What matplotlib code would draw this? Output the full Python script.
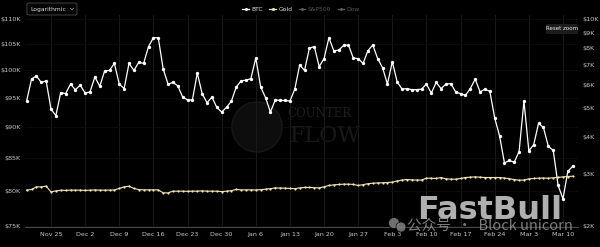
import pandas as pd
import matplotlib
matplotlib.use("Agg")
import matplotlib.pyplot as plt
from matplotlib.ticker import FixedLocator, NullLocator, FuncFormatter
from matplotlib.lines import Line2D
from matplotlib.patches import FancyBboxPatch, Ellipse, Circle
from matplotlib.transforms import IdentityTransform

plt.rcParams['font.family'] = ['DejaVu Sans']

# daily closes, Nov 20 2024 -> Mar 12 2025
dates = pd.date_range("2024-11-20", "2025-03-12", freq="D")

# BTC in $K
btc = [
    94.5, 98.4, 99.0, 97.8, 98.1, 93.1, 92.0, 96.0, 95.8, 97.5, 96.5,
    97.3, 95.9, 96.1, 98.8, 97.1, 99.9, 100.0, 101.3, 97.5, 96.7, 101.3, 100.0, 101.5, 101.3,
    104.5, 106.2, 106.2, 100.3, 97.5, 97.8, 97.2, 95.2, 94.7, 94.7, 99.5, 95.8, 94.2, 95.2,
    93.4, 92.6, 93.4,
    94.5, 97.0, 98.1, 98.2, 98.5, 102.3, 97.0, 95.1, 92.6, 94.7, 94.6, 94.6, 94.5, 96.6,
    101.0, 100.0, 104.2, 104.5, 100.7, 102.2, 106.2, 103.7, 103.8, 104.7, 104.8, 102.3,
    102.2, 101.3, 103.7, 104.8, 102.2,
    100.5, 97.5, 101.6, 97.9, 96.6, 96.7, 96.5, 96.5, 96.6, 97.5, 95.9, 97.8, 96.7, 97.5,
    97.6, 96.1, 95.8, 95.5, 96.7, 98.4, 96.1, 96.6, 96.2, 91.6, 88.6, 84.3, 84.7, 84.4,
    86.1, 94.5, 86.2, 87.2, 90.7, 90.0, 86.9, 86.3, 80.9, 78.9, 83.0, 83.8,
]

# Gold in $
gold = [
    2644, 2658, 2712, 2712, 2727, 2609, 2629, 2640, 2640, 2644, 2644,
    2644, 2640, 2644, 2648, 2644, 2644, 2644, 2648, 2679, 2712, 2727, 2679, 2655, 2650,
    2650, 2650, 2650, 2589, 2589, 2623, 2623, 2623, 2620, 2623, 2623, 2630, 2623, 2623,
    2623, 2615, 2623,
    2635, 2658, 2650, 2650, 2650, 2648, 2655, 2664, 2675, 2691, 2688, 2685, 2680, 2675,
    2691, 2700, 2700, 2695, 2691, 2715, 2742, 2755, 2763, 2770, 2770, 2765, 2742, 2760,
    2780, 2790, 2798,
    2800, 2805, 2813, 2840, 2860, 2872, 2865, 2860, 2860, 2902, 2900, 2895, 2917, 2886,
    2880, 2880, 2895, 2917, 2925, 2931, 2925, 2917, 2917, 2917, 2917, 2905, 2890, 2872,
    2857, 2860, 2886, 2895, 2902, 2905, 2902, 2910, 2920, 2931, 2940, 2947,
]

left_ticks = [75, 80, 85, 90, 95, 100, 105, 110]
right_ticks = [2, 3, 4, 5, 6, 7, 8, 9, 10]
week_ticks = pd.date_range("2024-11-25", "2025-03-10", freq="7D")
week_labels = [d.strftime("%b ") + str(d.day) for d in week_ticks]

legend_names = ["BTC", "Gold", "S&P500", "Dow"]
legend_colors = ["#ffffff", "#f3e7b4", "#5a5a5a", "#5a5a5a"]

BG = "#000000"
TXT = "#c8c8c8"
GRID = "#1a1a1a"

fig = plt.figure(figsize=(6, 2.47), dpi=100, facecolor=BG)
ax = fig.add_axes([25 / 600, 1 - 226.7 / 247, 553 / 600, 211.7 / 247])
ax.set_facecolor(BG)

# watermark logo (behind data)
ax.add_patch(Ellipse((0.4195, 0.471), 50 / 553, 50 / 211.7, transform=ax.transAxes,
                     facecolor="#0d0d0d", edgecolor="#161616", lw=1.2, zorder=0.5))
ax.text(0.475, 0.535, "COUNTER", transform=ax.transAxes, fontsize=8.5,
        family="DejaVu Serif", color="#1e1e1e", va="center", zorder=0.6)
ax.text(0.478, 0.43, "FLOW", transform=ax.transAxes, fontsize=16,
        family="DejaVu Serif", color="#181818", va="center", zorder=0.6)

ax2 = ax.twinx()

ax.plot(dates, btc, color="#ffffff", lw=0.9, marker="o", ms=2.4,
        markeredgewidth=0, zorder=5)
ax2.plot(dates, gold, color="#f3e7b4", lw=0.8, marker="o", ms=1.6,
         markeredgewidth=0, zorder=4)

ax.set_yscale("log")
ax2.set_yscale("log")
ax.set_ylim(75 * 0.9993, 110.76)
ax2.set_ylim(1990, 10320)

ax.yaxis.set_major_locator(FixedLocator(left_ticks))
ax.yaxis.set_minor_locator(NullLocator())
ax.yaxis.set_major_formatter(FuncFormatter(lambda v, p: "$%dK" % round(v)))
ax2.yaxis.set_major_locator(FixedLocator([t * 1000 for t in right_ticks]))
ax2.yaxis.set_minor_locator(NullLocator())
ax2.yaxis.set_major_formatter(FuncFormatter(lambda v, p: "$%dK" % round(v / 1000)))

ax.set_xlim(dates[0] - pd.Timedelta(hours=8), dates[-1] + pd.Timedelta(hours=26))
ax.set_xticks(week_ticks)
ax.set_xticklabels(week_labels)

ax.tick_params(axis="x", length=0, pad=4, labelsize=4.6, colors=TXT)
ax.tick_params(axis="y", length=0, pad=3, labelsize=4.6, colors=TXT)
ax2.tick_params(axis="y", length=0, pad=3.5, labelsize=4.6, colors=TXT)

ax.grid(True, axis="x", color=GRID, lw=0.7)
ax.grid(True, axis="y", color="#0e0e0e", lw=0.6)
ax.set_axisbelow(True)
for a in (ax, ax2):
    for s in a.spines.values():
        s.set_visible(False)
ax.spines["bottom"].set_visible(True)
ax.spines["bottom"].set_color("#555555")
ax.spines["bottom"].set_linewidth(0.6)

# legend
handles = [Line2D([], [], color=c, marker="o", ms=2.2, lw=0.9, markeredgewidth=0)
           for c in legend_colors]
fig.legend(handles, legend_names, loc="center", bbox_to_anchor=(0.502, 0.962),
           ncol=4, frameon=False, fontsize=4.3, handlelength=1.1,
           handletextpad=0.4, columnspacing=1.1,
           labelcolor=["#e6e6e6", "#e6e6e6", "#5a5a5a", "#5a5a5a"])

# "Logarithmic" dropdown
fig.patches.append(FancyBboxPatch((27 / 600, 1 - 15 / 247), 50 / 600, 12 / 247,
                                  boxstyle="round,pad=0,rounding_size=0.004",
                                  transform=fig.transFigure, facecolor="#050505",
                                  edgecolor="#4a4a4a", lw=0.6))
fig.text(30 / 600, 1 - 9 / 247, "Logarithmic", fontsize=4.3, color="#dddddd",
         va="center", ha="left")
fig.add_artist(Line2D([70.5 / 600, 72 / 600, 73.5 / 600],
                      [1 - 8.3 / 247, 1 - 9.8 / 247, 1 - 8.3 / 247],
                      transform=fig.transFigure, color="#aaaaaa", lw=0.5))

# "Reset zoom" button
fig.patches.append(FancyBboxPatch((546 / 600, 1 - 34 / 247), 32 / 600, 10 / 247,
                                  boxstyle="round,pad=0,rounding_size=0.004",
                                  transform=fig.transFigure, facecolor="#1c1c1c",
                                  edgecolor="none"))
fig.text(562 / 600, 1 - 29 / 247, "Reset zoom", fontsize=4.0, color="#eeeeee",
         va="center", ha="center")

# overlay watermarks
fig.text(490 / 600, 1 - 219 / 247, "FastBull", fontsize=23, weight="bold",
         color="#cfcfcf", alpha=0.85, ha="center", va="baseline", zorder=10)
for cx, cy, r in [(394, 24, 5.5), (401, 20, 5)]:
    fig.patches.append(Circle((cx, cy), r, transform=IdentityTransform(),
                              facecolor="#8a8a8a", edgecolor="#000000", lw=0.6,
                              alpha=0.8, zorder=9))
fig.text(407 / 600, 1 - 226 / 247, "公众号  ·  Block unicorn", fontsize=10.5,
         family=["Noto Sans CJK SC", "DejaVu Sans"], color="#9a9a9a", alpha=0.8,
         ha="left", va="center", zorder=10)

fig.savefig("out.png", dpi=100, facecolor=BG)
